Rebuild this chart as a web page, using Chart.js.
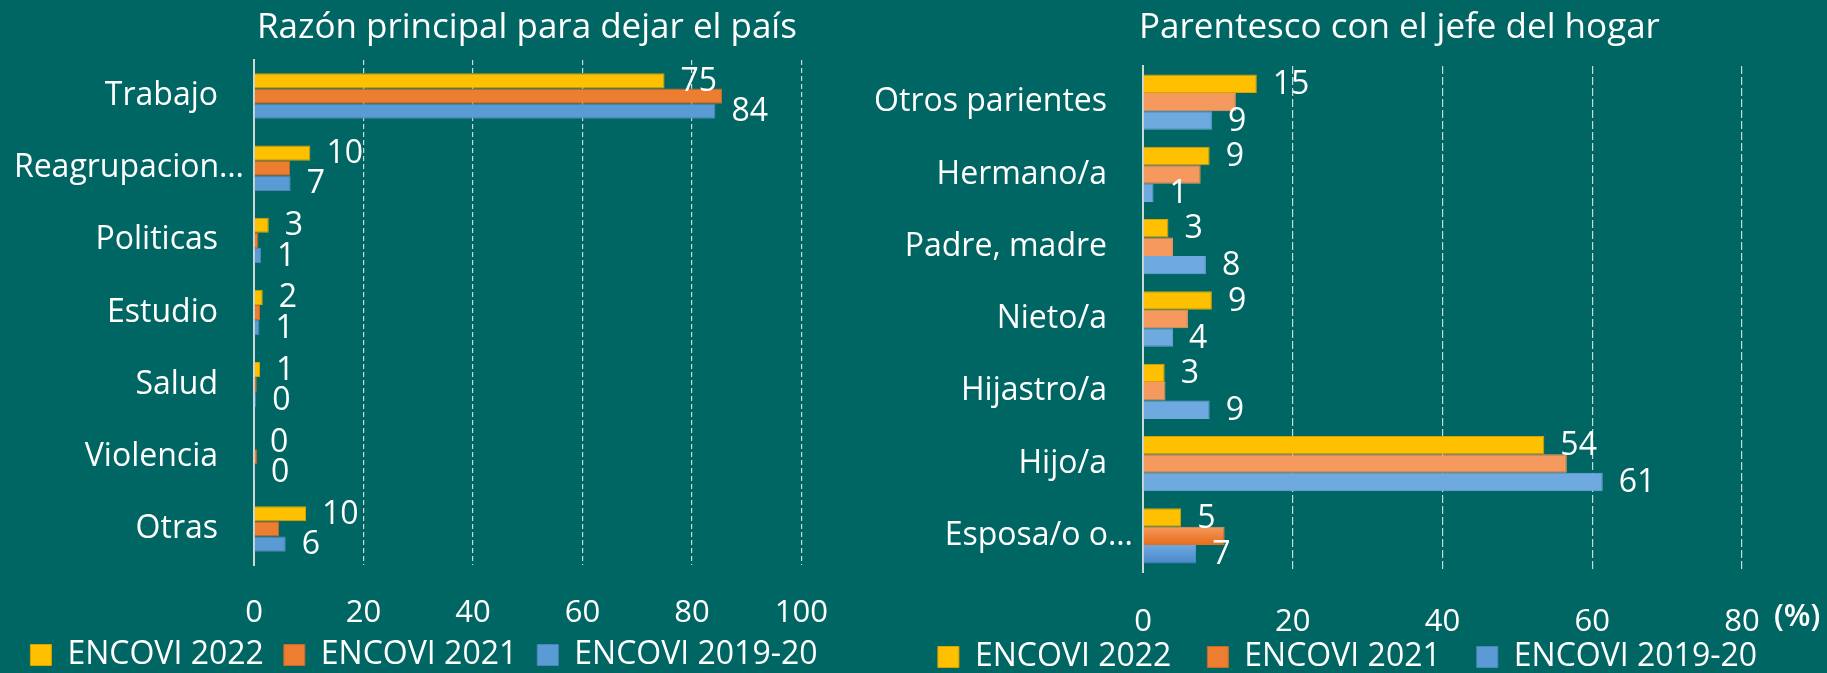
<!DOCTYPE html>
<html><head><meta charset="utf-8">
<script src="https://cdn.jsdelivr.net/npm/chart.js@4.4.1/dist/chart.umd.min.js"></script>
<style>
html,body{margin:0;padding:0;background:#006663;width:1827px;height:673px;overflow:hidden}
.box{position:absolute;top:0}
</style></head><body>
<div class="box" style="left:0;width:858px;height:681px"><canvas id="c1"></canvas></div>
<div class="box" style="left:868px;width:959px;height:683px"><canvas id="c2"></canvas></div>
<script>
// ---------- data ----------
const seriesNames = ['ENCOVI 2022', 'ENCOVI 2021', 'ENCOVI 2019-20'];

const reasonTitle = 'Razón principal para dejar el país';
const reasonCategories = ['Trabajo', 'Reagrupacion…', 'Politicas', 'Estudio', 'Salud', 'Violencia', 'Otras'];
const reason2022   = [75,   10.3, 2.7, 1.6, 1.1, 0,   9.5];
const reason2021   = [85.5, 6.6,  0.8, 1.1, 0.5, 0.6, 4.6];
const reason201920 = [84.3, 6.7,  1.3, 1.0, 0.4, 0.2, 5.8];
const reasonAxisMax = 100;

const kinTitle = 'Parentesco con el jefe del hogar';
const kinCategories = ['Otros parientes', 'Hermano/a', 'Padre, madre', 'Nieto/a', 'Hijastro/a', 'Hijo/a', 'Esposa/o o…'];
const kin2022   = [15.2, 8.9, 3.4, 9.2, 2.9, 53.6, 5.1];
const kin2021   = [12.4, 7.7, 4.0, 6.0, 3.0, 56.6, 10.9];
const kin201920 = [9.2,  1.4, 8.4, 4.0, 8.9, 61.4, 7.1];
const kinAxisMax = 80;
const kinUnit = '(%)';
const tickStep = 20;

// ---------- styles ----------
const FONT = "'Open Sans', sans-serif";
const WHITE = '#ffffff';
const YELLOW = '#FFC000', ORANGE = '#ED7D31', BLUE = '#5B9BD5';

const decorPlugin = {
  id: 'decor',
  beforeDatasetsDraw(chart, args, opts) {
    if (!opts.gradient) return;
    const ctx = chart.ctx;
    const grads = {1: ['#F5995F', '#E66C1A'], 2: ['#6EA9E0', '#4A88C9']};
    Object.keys(grads).forEach(di => {
      chart.getDatasetMeta(+di).data.forEach(bar => {
        const p = bar.getProps(['y', 'height'], true);
        const g = ctx.createLinearGradient(0, p.y - p.height / 2, 0, p.y + p.height / 2);
        g.addColorStop(0, grads[di][0]);
        g.addColorStop(1, grads[di][1]);
        bar.options.backgroundColor = g;
        bar.options.borderColor = g;
      });
    });
  },
  afterDraw(chart, args, opts) {
    const ctx = chart.ctx;
    const area = chart.chartArea;
    ctx.save();
    ctx.fillStyle = WHITE;
    // title
    ctx.font = `${opts.titleSize}px ${FONT}`;
    ctx.textAlign = 'left';
    ctx.textBaseline = 'alphabetic';
    ctx.fillText(opts.title, area.left + opts.titleDx, opts.titleBaseline);
    // value labels (first and last series)
    ctx.font = `${opts.valueSize}px ${FONT}`;
    ctx.textBaseline = 'middle';
    [0, 2].forEach(di => {
      chart.getDatasetMeta(di).data.forEach((bar, i) => {
        const v = chart.data.datasets[di].data[i];
        ctx.fillText(String(Math.round(v)), bar.x + opts.valueGap, bar.y + opts.valueDy);
      });
    });
    // truncated category labels sit closer to the axis, as in the source
    const ys = chart.scales.y;
    ctx.font = `${opts.catSize}px ${FONT}`;
    ctx.textAlign = 'right';
    chart.data.labels.forEach((lab, i) => {
      if (lab.endsWith('…')) ctx.fillText(lab, ys.right - opts.truncGap, ys.getPixelForTick(i));
    });
    // unit after the last tick
    if (opts.unit) {
      const xs = chart.scales.x;
      ctx.font = `600 ${opts.tickSize}px ${FONT}`;
      ctx.textAlign = 'left';
      ctx.fillText(opts.unit, xs.getPixelForValue(xs.max) + opts.unitDx, opts.unitY);
    }
    ctx.restore();
  }
};

function makeChart(id, cfg) {
  const datasets = [cfg.d1, cfg.d2, cfg.d3].map((d, k) => ({
    label: seriesNames[k],
    data: d,
    backgroundColor: [YELLOW, ORANGE, BLUE][k],
    borderColor: ['#D9A400', '#C9682A', '#4E86B8'][k],
    borderWidth: 1,
    barPercentage: 1,
    categoryPercentage: cfg.catPct
  }));
  return new Chart(document.getElementById(id), {
    type: 'bar',
    data: {labels: cfg.labels, datasets},
    plugins: [decorPlugin],
    options: {
      indexAxis: 'y',
      responsive: true,
      maintainAspectRatio: false,
      animation: false,
      layout: {padding: {top: cfg.top, right: cfg.right, left: 0, bottom: 0}},
      scales: {
        x: {
          min: 0, max: cfg.max,
          grid: {color: ctx => ctx.tick && ctx.tick.value === 0 ? 'rgba(0,0,0,0)' : 'rgba(235,240,240,0.85)', lineWidth: 1.2, drawTicks: false},
          border: {display: false, dash: cfg.dash},
          ticks: {stepSize: tickStep, color: WHITE, font: {family: FONT, size: 31}, padding: cfg.tickPad},
          afterFit: s => {
            s.height = cfg.xh;
            if (cfg.plotRightGap) s.paddingRight = cfg.plotRightGap;
            s._computeLabelArea = () => undefined;
          }
        },
        y: {
          grid: {display: false, drawTicks: false},
          border: {display: true, color: '#CFD8D8', width: 2},
          ticks: {
            color: WHITE, font: {family: FONT, size: 32}, padding: 36,
            callback: function (v) { const l = this.getLabelForValue(v); return l.endsWith('…') ? '' : l; }
          },
          afterFit: s => { s.width = cfg.yw; s._computeLabelArea = () => undefined; }
        }
      },
      plugins: {
        legend: {
          position: 'bottom',
          labels: {color: WHITE, font: {family: FONT, size: 32}, boxWidth: 21, boxHeight: 21, padding: cfg.legendPad}
        },
        tooltip: {enabled: false},
        decor: {
          title: cfg.title, titleSize: 35, titleDx: cfg.titleDx, titleBaseline: 38,
          valueSize: 32, valueGap: 16, valueDy: 1,
          catSize: 32, truncGap: 10, tickSize: 31,
          unit: cfg.unit, unitDx: 32, unitY: cfg.unitY,
          gradient: cfg.gradient
        }
      }
    }
  });
}

makeChart('c1', {
  labels: reasonCategories, d1: reason2022, d2: reason2021, d3: reason201920,
  max: reasonAxisMax, catPct: 0.63, top: 60, right: 10, yw: 254, xh: 54, tickPad: 30, legendPad: 20,
  dash: [5, 3], title: reasonTitle, titleDx: 3, gradient: false
});
makeChart('c2', {
  labels: kinCategories, d1: kin2022, d2: kin2021, d3: kin201920,
  max: kinAxisMax, catPct: 0.765, top: 66, right: 0, plotRightGap: 85, yw: 275, xh: 33, tickPad: 32, legendPad: 36,
  dash: [8, 3], title: kinTitle, titleDx: -4, gradient: true, unit: kinUnit, unitY: 617
});
</script>
</body></html>
